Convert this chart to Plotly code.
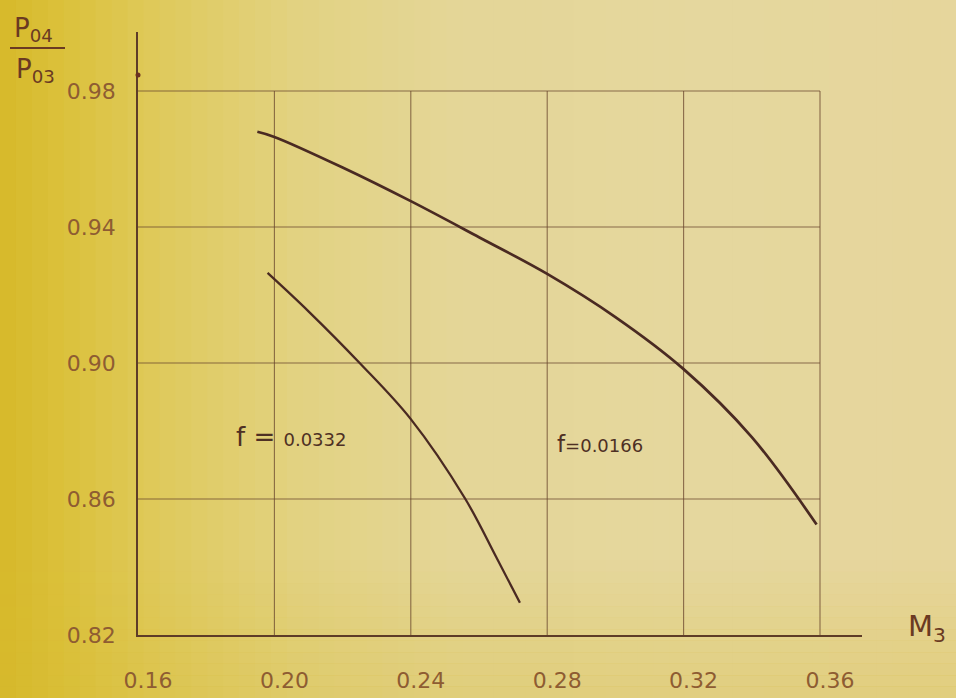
import plotly.graph_objects as go

# ---- data ----
x_ticks = [0.16, 0.20, 0.24, 0.28, 0.32, 0.36]
x_ticktext = ["0.16", "0.20", "0.24", "0.28", "0.32", "0.36"]
y_ticks = [0.82, 0.86, 0.90, 0.94, 0.98]
y_ticktext = ["0.82", "0.86", "0.90", "0.94", "0.98"]

m3_f0166 = [0.195, 0.20, 0.22, 0.24, 0.26, 0.28, 0.30, 0.32, 0.34, 0.359]
p_f0166 = [0.968, 0.9665, 0.9575, 0.9476, 0.937, 0.9262, 0.9135, 0.8982, 0.8782, 0.8525]

m3_f0332 = [0.198, 0.21, 0.225, 0.24, 0.256, 0.265, 0.272]
p_f0332 = [0.9265, 0.9152, 0.90, 0.8835, 0.86, 0.843, 0.8295]

# ---- figure geometry ----
W, H = 956, 698
L, R, T, B = 138, 94, 32, 63
PW, PH = W - L - R, H - T - B


def px(xpix):
    return (xpix - L) / PW


def py(ypix):
    return (H - B - ypix) / PH


def hexmix(c1, c2, t):
    a = [int(c1[i:i + 2], 16) for i in (1, 3, 5)]
    b = [int(c2[i:i + 2], 16) for i in (1, 3, 5)]
    return "rgb(%d,%d,%d)" % tuple(round(a[k] + (b[k] - a[k]) * t) for k in range(3))


curve_col = "#4a2a22"
grid_col = "rgba(105,70,45,0.75)"
axis_col = "#5e3c28"
tick_col = "#8e5c32"
text_col = "#4e3024"

fig = go.Figure()

fig.add_trace(go.Scatter(x=m3_f0166, y=p_f0166, mode="lines",
                         line=dict(color=curve_col, width=2.7, shape="spline", smoothing=1.0),
                         hoverinfo="skip", showlegend=False))
fig.add_trace(go.Scatter(x=m3_f0332, y=p_f0332, mode="lines",
                         line=dict(color=curve_col, width=2.3, shape="spline", smoothing=1.0),
                         hoverinfo="skip", showlegend=False))

shapes = []
# background: yellow on the left fading to pale cream
stops = [(0, "#d6b92a"), (60, "#dbc13a"), (160, "#dfca5c"), (300, "#e2d282"),
         (450, "#e4d697"), (700, "#e5d79e"), (956, "#e6d69c")]
n = 60
for i in range(n):
    x0 = W * i / n
    x1 = W * (i + 1) / n
    xm = (x0 + x1) / 2
    for j in range(len(stops) - 1):
        if stops[j][0] <= xm <= stops[j + 1][0]:
            t = (xm - stops[j][0]) / (stops[j + 1][0] - stops[j][0])
            col = hexmix(stops[j][1], stops[j + 1][1], t)
            break
    shapes.append(dict(type="rect", xref="paper", yref="paper", x0=px(x0), x1=px(x1 + 1),
                       y0=py(H + 2), y1=py(-2), fillcolor=col, line=dict(width=0), layer="below"))
# slight yellow tint at the bottom
nb = 12
for k in range(nb):
    y0 = 560 + (H - 560) * k / nb
    y1 = 560 + (H - 560) * (k + 1) / nb
    a = 0.28 * (k + 0.5) / nb
    shapes.append(dict(type="rect", xref="paper", yref="paper", x0=px(-2), x1=px(W + 2),
                       y0=py(y1 + 0.5), y1=py(y0), fillcolor="rgba(215,185,45,%.3f)" % a,
                       line=dict(width=0), layer="below"))

# grid
for xv in x_ticks[1:]:
    shapes.append(dict(type="line", xref="x", yref="y", x0=xv, x1=xv, y0=y_ticks[0], y1=y_ticks[-1],
                       line=dict(color=grid_col, width=1.1), layer="below"))
for yv in y_ticks[1:]:
    shapes.append(dict(type="line", xref="x", yref="y", x0=x_ticks[0], x1=x_ticks[-1], y0=yv, y1=yv,
                       line=dict(color=grid_col, width=1.1), layer="below"))

# fraction bar of the y label
shapes.append(dict(type="line", xref="paper", yref="paper", x0=px(10), x1=px(65), y0=py(48), y1=py(48),
                   line=dict(color="#6a3a22", width=2)))
# small dot on y axis
shapes.append(dict(type="circle", xref="paper", yref="paper", x0=px(135.5), x1=px(140.5),
                   y0=py(77.5), y1=py(72.5), fillcolor="#6a3020", line=dict(width=0)))

annotations = [
    dict(text="P<sub>04</sub>", xref="paper", yref="paper", x=px(12), y=py(48),
         xanchor="left", yanchor="bottom", showarrow=False,
         font=dict(family="DejaVu Sans", size=26, color="#6a3a22")),
    dict(text="P<sub>03</sub>", xref="paper", yref="paper", x=px(14), y=py(52),
         xanchor="left", yanchor="top", showarrow=False,
         font=dict(family="DejaVu Sans", size=26, color="#6a3a22")),
    dict(text="M<sub>3</sub>", xref="paper", yref="paper", x=px(906), y=py(628),
         xanchor="left", yanchor="middle", showarrow=False,
         font=dict(family="DejaVu Sans", size=29, color="#6a3a22")),
    dict(text="f = <span style='font-size:18px'>0.0332</span>", xref="paper", yref="paper",
         x=px(234), y=py(437), xanchor="left", yanchor="middle", showarrow=False,
         font=dict(family="DejaVu Sans", size=26, color=text_col)),
    dict(text="f<span style='font-size:18px'>=0.0166</span>", xref="paper", yref="paper",
         x=px(555), y=py(444), xanchor="left", yanchor="middle", showarrow=False,
         font=dict(family="DejaVu Sans", size=23, color=text_col)),
]

fig.update_layout(
    width=W, height=H,
    margin=dict(l=L, r=R, t=T, b=B, pad=0, autoexpand=False),
    paper_bgcolor="#e5d69c",
    plot_bgcolor="rgba(0,0,0,0)",
    shapes=shapes,
    annotations=annotations,
    showlegend=False,
    xaxis=dict(range=[0.16, 0.16 + (W - R - L) / 3410.0], tickvals=x_ticks, ticktext=x_ticktext,
               showgrid=False, zeroline=False, showline=True, linecolor=axis_col, linewidth=1.6,
               ticks="", ticklabelstandoff=25, ticklabelshift=10, automargin=False,
               tickfont=dict(family="DejaVu Sans", size=22, color=tick_col), fixedrange=True),
    yaxis=dict(range=[0.82, 0.82 + PH / 3400.0], tickvals=y_ticks, ticktext=y_ticktext,
               showgrid=False, zeroline=False, showline=True, linecolor=axis_col, linewidth=1.6,
               ticks="", ticklabelstandoff=16, automargin=False,
               tickfont=dict(family="DejaVu Sans", size=22, color=tick_col), fixedrange=True),
)

fig.write_html("out.html", config={"displayModeBar": False},
               post_script="document.body.style.margin='0';document.body.style.overflow='hidden';")
